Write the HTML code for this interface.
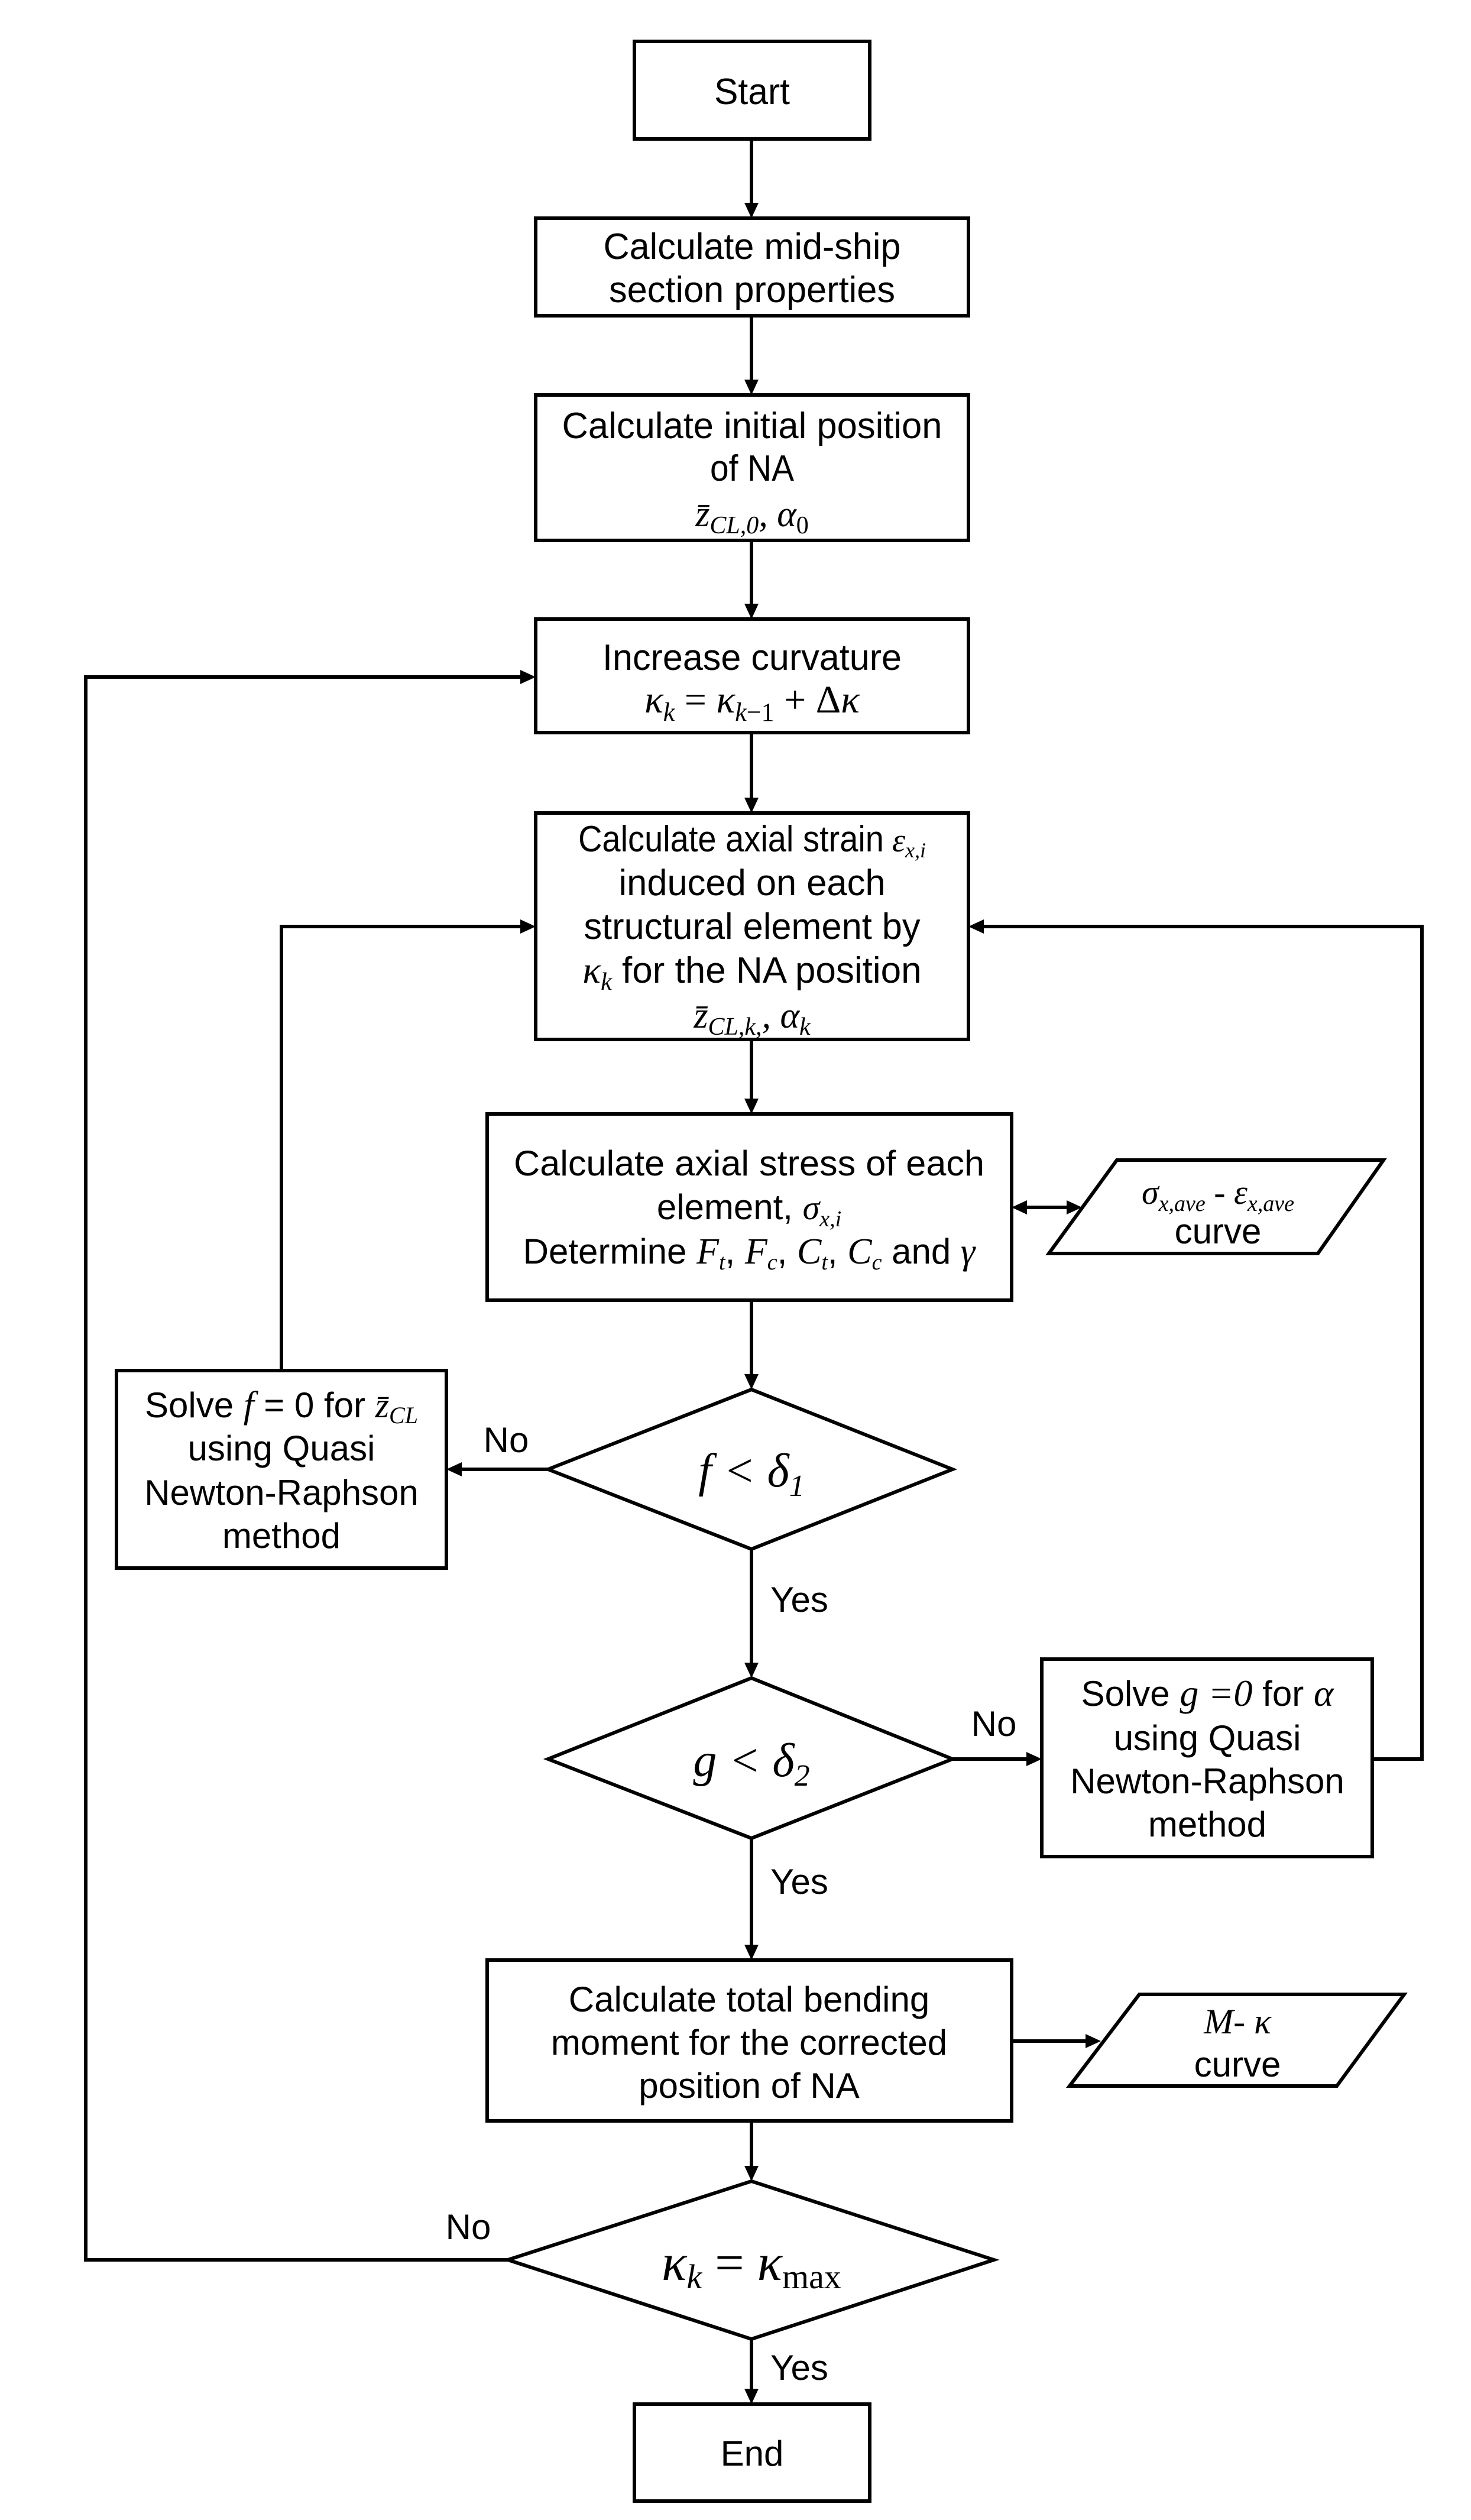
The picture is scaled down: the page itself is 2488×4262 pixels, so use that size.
<!DOCTYPE html>
<html><head><meta charset="utf-8"><style>
html,body{margin:0;padding:0;background:#fff;}
svg{display:block;}
.n{font-family:"Liberation Sans Narrow","Liberation Sans",sans-serif;font-size:62px;fill:#000;}
.r{font-family:"Liberation Sans",sans-serif;font-size:60px;fill:#000;}
.m{font-family:"Liberation Serif",serif;font-style:italic;fill:#000;}
.mu{font-family:"Liberation Serif",serif;fill:#000;}
</style></head><body>
<svg width="2488" height="4262" viewBox="0 0 2488 4262" xmlns="http://www.w3.org/2000/svg">
<g fill="none" stroke="#000" stroke-width="6">
<rect x="1073" y="70" width="398" height="165"/>
<rect x="906" y="369" width="732" height="165"/>
<rect x="906" y="668" width="732" height="246"/>
<rect x="906" y="1047" width="732" height="192"/>
<rect x="906" y="1375" width="732" height="383"/>
<rect x="824" y="1884" width="887" height="315"/>
<polygon points="1889,1962 2340,1962 2229,2120 1774,2120"/>
<polygon points="927,2485 1271,2350 1611,2485 1271,2620"/>
<rect x="197" y="2318" width="558" height="334"/>
<polygon points="927,2975 1271,2838 1611,2975 1271,3109"/>
<rect x="1762" y="2806" width="559" height="334"/>
<rect x="824" y="3315" width="887" height="272"/>
<polygon points="1927,3373 2375,3373 2261,3528 1809,3528"/>
<polygon points="859,3822 1271,3689 1681,3822 1271,3956"/>
<rect x="1073" y="4066" width="398" height="164"/>
<polyline points="1271,235 1271,345"/>
<polyline points="1271,534 1271,644"/>
<polyline points="1271,914 1271,1023"/>
<polyline points="1271,1239 1271,1351"/>
<polyline points="1271,1758 1271,1860"/>
<polyline points="1271,2199 1271,2326"/>
<polyline points="927,2485 779,2485"/>
<polyline points="476,2318 476,1567 882,1567"/>
<polyline points="1271,2620 1271,2814"/>
<polyline points="1611,2975 1738,2975"/>
<polyline points="2321,2975 2405,2975 2405,1567 1662,1567"/>
<polyline points="1271,3109 1271,3291"/>
<polyline points="1711,3452 1840,3452"/>
<polyline points="1271,3587 1271,3665"/>
<polyline points="859,3822 145,3822 145,1145 882,1145"/>
<polyline points="1271,3956 1271,4042"/>
<polyline points="1735,2042 1805,2042"/>
</g>
<g fill="#000">
<polygon points="1271,369 1259,343 1283,343"/>
<polygon points="1271,668 1259,642 1283,642"/>
<polygon points="1271,1047 1259,1021 1283,1021"/>
<polygon points="1271,1375 1259,1349 1283,1349"/>
<polygon points="1271,1884 1259,1858 1283,1858"/>
<polygon points="1271,2350 1259,2324 1283,2324"/>
<polygon points="755,2485 781,2473 781,2497"/>
<polygon points="906,1567 880,1555 880,1579"/>
<polygon points="1271,2838 1259,2812 1283,2812"/>
<polygon points="1762,2975 1736,2963 1736,2987"/>
<polygon points="1638,1567 1664,1555 1664,1579"/>
<polygon points="1271,3315 1259,3289 1283,3289"/>
<polygon points="1862,3452 1836,3440 1836,3464"/>
<polygon points="1271,3689 1259,3663 1283,3663"/>
<polygon points="906,1145 880,1133 880,1157"/>
<polygon points="1271,4066 1259,4040 1283,4040"/>
<polygon points="1711,2042 1737,2030 1737,2054"/>
<polygon points="1830,2042 1804,2030 1804,2054"/>
</g>
<g text-anchor="middle">
<text class="n" x="1272" y="176" textLength="128" lengthAdjust="spacingAndGlyphs">Start</text>
<text class="n" x="1272" y="438" textLength="503" lengthAdjust="spacingAndGlyphs">Calculate mid-ship</text>
<text class="n" x="1272" y="511" textLength="484" lengthAdjust="spacingAndGlyphs">section properties</text>
<text class="n" x="1272" y="741" textLength="643" lengthAdjust="spacingAndGlyphs">Calculate initial position</text>
<text class="n" x="1272" y="813" textLength="142" lengthAdjust="spacingAndGlyphs">of NA</text>
<text class="m" x="1272" y="890" font-size="62">z̄<tspan font-size="42" dy="12">CL,0</tspan><tspan dy="-12">, α</tspan><tspan class="mu" font-style="normal" font-size="42" dy="12">0</tspan></text>
<text class="n" x="1272" y="1133" textLength="506" lengthAdjust="spacingAndGlyphs">Increase curvature</text>
<text class="m" x="1272" y="1205" font-size="66">κ<tspan font-size="44" dy="14">k</tspan><tspan class="mu" font-style="normal" dy="-14"> = </tspan>κ<tspan font-size="44" dy="14">k</tspan><tspan class="mu" font-style="normal" font-size="44">−1</tspan><tspan class="mu" font-style="normal" dy="-14"> + Δ</tspan>κ</text>
<text class="n" x="1272" y="1440"><tspan textLength="517" lengthAdjust="spacingAndGlyphs">Calculate axial strain</tspan><tspan class="m" font-size="56"> ε</tspan><tspan class="m" font-size="36" dy="10">x,i</tspan></text>
<text class="n" x="1272" y="1514" textLength="451" lengthAdjust="spacingAndGlyphs">induced on each</text>
<text class="n" x="1272" y="1588" textLength="569" lengthAdjust="spacingAndGlyphs">structural element by</text>
<text class="n" x="1272" y="1662"><tspan class="m" font-size="64">κ</tspan><tspan class="m" font-size="42" dy="12">k</tspan><tspan dy="-12"> for the NA position</tspan></text>
<text class="m" x="1272" y="1738" font-size="62">z̄<tspan font-size="42" dy="12">CL,k,</tspan><tspan dy="-12">, α</tspan><tspan font-size="42" dy="12">k</tspan></text>
<text class="r" x="1267" y="1988" textLength="796" lengthAdjust="spacingAndGlyphs">Calculate axial stress of each</text>
<text class="r" x="1267" y="2062">element, <tspan class="m" font-size="58">σ</tspan><tspan class="m" font-size="38" dy="12">x,i</tspan></text>
<text class="r" x="1267" y="2137">Determine <tspan class="m" font-size="62">F</tspan><tspan class="m" font-size="38" dy="10">t</tspan><tspan dy="-10">, </tspan><tspan class="m" font-size="62">F</tspan><tspan class="m" font-size="38" dy="10">c</tspan><tspan dy="-10">, </tspan><tspan class="m" font-size="62">C</tspan><tspan class="m" font-size="38" dy="10">t</tspan><tspan dy="-10">, </tspan><tspan class="m" font-size="62">C</tspan><tspan class="m" font-size="38" dy="10">c</tspan><tspan dy="-10"> and </tspan><tspan class="m" font-size="62">γ</tspan></text>
<text class="m" x="2060" y="2036" font-size="58">σ<tspan font-size="38" dy="12">x,ave</tspan><tspan class="mu" font-style="normal" dy="-12"> - </tspan>ε<tspan font-size="38" dy="12">x,ave</tspan></text>
<text class="r" x="2060" y="2103">curve</text>
<text class="m" x="1271" y="2514" font-size="80">f &lt; δ<tspan font-size="52" dy="16">1</tspan></text>
<text class="r" x="476" y="2397">Solve <tspan class="m" font-size="64">f</tspan> = 0 for <tspan class="m" font-size="60">z̄</tspan><tspan class="m" font-size="40" dy="10">CL</tspan></text>
<text class="r" x="476" y="2470">using Quasi</text>
<text class="r" x="476" y="2545">Newton-Raphson</text>
<text class="r" x="476" y="2618">method</text>
<text class="r" x="856" y="2456">No</text>
<text class="r" x="1352" y="2726">Yes</text>
<text class="m" x="1271" y="3004" font-size="80">g &lt; δ<tspan font-size="52" dy="16">2</tspan></text>
<text class="r" x="2042" y="2885">Solve <tspan class="m" font-size="64">g =0</tspan> for <tspan class="m" font-size="64">α</tspan></text>
<text class="r" x="2042" y="2960">using Quasi</text>
<text class="r" x="2042" y="3033">Newton-Raphson</text>
<text class="r" x="2042" y="3106">method</text>
<text class="r" x="1681" y="2936">No</text>
<text class="r" x="1352" y="3203">Yes</text>
<text class="r" x="1267" y="3402">Calculate total bending</text>
<text class="r" x="1267" y="3475">moment for the corrected</text>
<text class="r" x="1267" y="3548">position of NA</text>
<text class="m" x="2093" y="3439" font-size="60">M<tspan class="mu" font-style="normal">- </tspan>κ</text>
<text class="r" x="2093" y="3512">curve</text>
<text class="m" x="1271" y="3856" font-size="88">κ<tspan font-size="58" dy="14">k</tspan><tspan class="mu" font-style="normal" dy="-14"> = </tspan>κ<tspan class="mu" font-style="normal" font-size="58" dy="14">max</tspan></text>
<text class="r" x="792" y="3787">No</text>
<text class="r" x="1352" y="4025">Yes</text>
<text class="r" x="1272" y="4170">End</text>
</g>
</svg>
</body></html>
